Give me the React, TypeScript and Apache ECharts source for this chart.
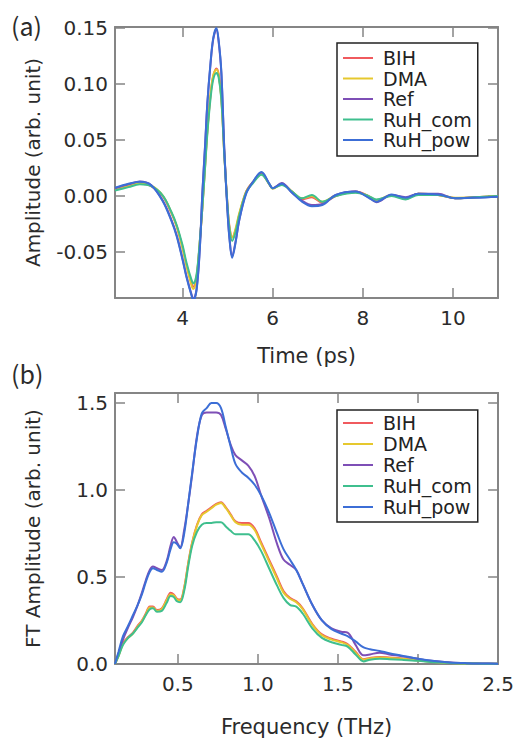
import React, { useEffect, useRef } from "react";
import * as echarts from "echarts";

const SERIES_NAMES = ["BIH", "DMA", "Ref", "RuH_com", "RuH_pow"];
const COLORS = ["#f05a5e", "#e6c82e", "#7e4fb6", "#3fbf8e", "#3c6ed6"];

// Panel (a): time domain
const TIME = [2.5, 2.8, 3.05, 3.3, 3.56, 3.75, 3.87, 4.0, 4.09, 4.2, 4.24, 4.31, 4.38, 4.44, 4.5, 4.55, 4.62, 4.68, 4.75, 4.8, 4.86, 4.93, 5.0, 5.04, 5.1, 5.17, 5.26, 5.41, 5.55, 5.75, 5.92, 6.0, 6.2, 6.43, 6.65, 6.87, 7.1, 7.4, 7.84, 8.13, 8.3, 8.64, 8.95, 9.23, 9.67, 10.05, 10.5, 11.0];
const AMP_BIH = [0.006, 0.009, 0.011, 0.009, 0.0, -0.015, -0.027, -0.046, -0.062, -0.078, -0.081, -0.072, -0.042, -0.01, 0.027, 0.058, 0.09, 0.107, 0.114, 0.109, 0.088, 0.035, -0.01, -0.027, -0.037, -0.031, -0.016, 0.004, 0.012, 0.02, 0.011, 0.007, 0.011, 0.004, -0.003, -0.001, -0.006, 0.0, 0.004, 0.0, -0.004, 0.001, -0.002, 0.002, 0.001, -0.002, -0.001, 0.0];
const AMP_DMA = [0.0065, 0.0095, 0.0115, 0.0095, 0.0005, -0.0145, -0.027, -0.047, -0.063, -0.080, -0.083, -0.073, -0.042, -0.009, 0.028, 0.059, 0.091, 0.108, 0.113, 0.108, 0.087, 0.034, -0.011, -0.028, -0.037, -0.03, -0.015, 0.004, 0.012, 0.0195, 0.011, 0.0065, 0.0105, 0.004, -0.002, 0.0, -0.005, 0.0005, 0.0035, 0.0, -0.0035, 0.001, -0.0025, 0.002, 0.001, -0.0015, -0.001, 0.0];
const AMP_REF = [0.007, 0.0105, 0.013, 0.01, -0.004, -0.021, -0.035, -0.056, -0.072, -0.088, -0.092, -0.083, -0.048, 0.004, 0.046, 0.083, 0.118, 0.14, 0.149, 0.138, 0.11, 0.038, -0.015, -0.037, -0.054, -0.042, -0.021, 0.003, 0.012, 0.021, 0.011, 0.007, 0.0116, 0.003, -0.004, -0.008, -0.007, 0.001, 0.004, -0.001, -0.0055, 0.001, -0.001, 0.002, 0.002, -0.002, -0.001, -0.0005];
const AMP_RUH_COM = [0.005, 0.008, 0.0105, 0.009, 0.0005, -0.014, -0.026, -0.044, -0.06, -0.075, -0.078, -0.07, -0.041, -0.01, 0.026, 0.056, 0.087, 0.104, 0.11, 0.106, 0.086, 0.034, -0.011, -0.029, -0.04, -0.033, -0.017, 0.003, 0.011, 0.019, 0.011, 0.007, 0.01, 0.004, -0.002, 0.001, -0.005, 0.0, 0.003, 0.0, -0.003, 0.0, -0.003, 0.001, 0.001, -0.002, -0.001, 0.0];
const AMP_RUH_POW = [0.0075, 0.011, 0.0128, 0.0098, -0.0045, -0.022, -0.036, -0.057, -0.073, -0.089, -0.093, -0.084, -0.049, 0.003, 0.045, 0.083, 0.119, 0.141, 0.15, 0.139, 0.111, 0.037, -0.016, -0.038, -0.055, -0.043, -0.021, 0.002, 0.012, 0.0215, 0.0115, 0.007, 0.011, 0.003, -0.005, -0.009, -0.008, 0.001, 0.004, -0.0015, -0.005, 0.0015, -0.0015, 0.002, 0.0015, -0.002, -0.0015, -0.0005];

// Panel (b): frequency domain
const FREQ = [0.108, 0.13, 0.158, 0.19, 0.22, 0.25, 0.276, 0.3, 0.325, 0.345, 0.37, 0.4, 0.43, 0.455, 0.475, 0.495, 0.515, 0.54, 0.565, 0.59, 0.62, 0.65, 0.68, 0.71, 0.74, 0.77, 0.8, 0.83, 0.86, 0.9, 0.94, 0.98, 1.02, 1.07, 1.12, 1.16, 1.2, 1.24, 1.28, 1.34, 1.4, 1.46, 1.52, 1.56, 1.61, 1.66, 1.7, 1.76, 1.82, 1.9, 2.0, 2.1, 2.2, 2.3, 2.4, 2.5];
const FT_BIH = [0.0, 0.05, 0.12, 0.155, 0.18, 0.22, 0.25, 0.29, 0.33, 0.33, 0.31, 0.32, 0.37, 0.41, 0.4, 0.375, 0.37, 0.44, 0.58, 0.7, 0.8, 0.86, 0.88, 0.9, 0.92, 0.93, 0.9, 0.86, 0.82, 0.81, 0.81, 0.78, 0.7, 0.6, 0.5, 0.42, 0.38, 0.36, 0.32, 0.23, 0.17, 0.145, 0.13, 0.115, 0.07, 0.028, 0.035, 0.04, 0.037, 0.032, 0.022, 0.013, 0.007, 0.004, 0.002, 0.001];
const FT_DMA = [0.0, 0.045, 0.115, 0.15, 0.175, 0.215, 0.245, 0.285, 0.325, 0.325, 0.305, 0.315, 0.365, 0.4, 0.395, 0.37, 0.365, 0.435, 0.575, 0.695, 0.795, 0.855, 0.875, 0.895, 0.915, 0.925, 0.895, 0.855, 0.815, 0.8, 0.8, 0.77, 0.69, 0.59, 0.49, 0.41, 0.375, 0.355, 0.315, 0.225, 0.165, 0.14, 0.125, 0.11, 0.065, 0.025, 0.032, 0.037, 0.034, 0.03, 0.02, 0.012, 0.006, 0.003, 0.002, 0.001];
const FT_REF = [0.0, 0.06, 0.14, 0.21, 0.27, 0.34, 0.41, 0.48, 0.54, 0.56, 0.55, 0.54, 0.59, 0.68, 0.73, 0.7, 0.67, 0.77, 0.92, 1.09, 1.31, 1.43, 1.445, 1.445, 1.445, 1.43, 1.35, 1.26, 1.2, 1.17, 1.14, 1.08, 0.97, 0.84, 0.69, 0.6, 0.57, 0.54, 0.46, 0.34, 0.25, 0.205, 0.185, 0.18, 0.11, 0.05, 0.055, 0.065, 0.055, 0.045, 0.03, 0.017, 0.009, 0.005, 0.003, 0.002];
const FT_RUH_COM = [0.0, 0.045, 0.11, 0.15, 0.175, 0.21, 0.24, 0.28, 0.315, 0.32, 0.3, 0.305, 0.35, 0.39, 0.385, 0.36, 0.355, 0.42, 0.56, 0.68, 0.76, 0.8, 0.81, 0.81, 0.815, 0.815, 0.79, 0.765, 0.745, 0.745, 0.745, 0.71, 0.65, 0.55, 0.45, 0.38, 0.34, 0.33, 0.29, 0.205, 0.15, 0.125, 0.11, 0.1, 0.055, 0.015, 0.025, 0.03, 0.028, 0.024, 0.018, 0.01, 0.006, 0.003, 0.002, 0.001];
const FT_RUH_POW = [0.0, 0.07, 0.16, 0.22, 0.28, 0.34, 0.4, 0.47, 0.53, 0.55, 0.54, 0.53, 0.58, 0.66, 0.7, 0.69, 0.665, 0.75, 0.92, 1.1, 1.3, 1.44, 1.47, 1.5, 1.5, 1.47, 1.36, 1.25, 1.15, 1.1, 1.07, 1.03, 0.97, 0.87, 0.75, 0.66, 0.6, 0.54, 0.46, 0.34, 0.25, 0.2, 0.175, 0.16, 0.13, 0.095, 0.085, 0.075, 0.062, 0.048, 0.03, 0.017, 0.009, 0.005, 0.003, 0.002];

const TIME_TICKS = [4, 6, 8, 10];
const AMP_TICKS = [-0.05, 0.0, 0.05, 0.1, 0.15];
const FREQ_TICKS = [0.5, 1.0, 1.5, 2.0, 2.5];
const FT_TICKS = [0.0, 0.5, 1.0, 1.5];

const FONT = "DejaVu Sans";
const AXIS_COLOR = "#858585";
const TEXT_COLOR = "#2b2b2b";

function zip(xs: number[], ys: number[]) {
  return xs.map((x, i) => [x, ys[i]]);
}

function makeXAxis(gridIndex: number, position: "top" | "bottom", min: number, max: number, ticks: number[], digits: number, name?: string, nameGap?: number) {
  const labeled = position === "bottom";
  return {
    type: "value",
    gridIndex,
    position,
    min,
    max,
    name: labeled ? name : undefined,
    nameLocation: "middle",
    nameGap,
    nameTextStyle: { fontSize: 21, color: TEXT_COLOR, fontFamily: FONT },
    axisLine: { show: true, onZero: false, lineStyle: { color: AXIS_COLOR, width: 2 } },
    axisTick: { show: true, inside: true, length: 10, customValues: ticks, lineStyle: { color: AXIS_COLOR, width: 1.5 } },
    axisLabel: {
      show: labeled,
      customValues: ticks,
      margin: 10,
      fontSize: 20,
      color: TEXT_COLOR,
      fontFamily: FONT,
      formatter: (v: number) => v.toFixed(digits),
    },
    splitLine: { show: false },
  };
}

function makeYAxis(gridIndex: number, position: "left" | "right", min: number, max: number, ticks: number[], digits: number, name?: string) {
  const labeled = position === "left";
  return {
    type: "value",
    gridIndex,
    position,
    min,
    max,
    name: labeled ? name : undefined,
    nameLocation: "middle",
    nameGap: 72,
    nameRotate: 90,
    nameTextStyle: { fontSize: 20, color: TEXT_COLOR, fontFamily: FONT },
    axisLine: { show: true, onZero: false, lineStyle: { color: AXIS_COLOR, width: 2 } },
    axisTick: { show: true, inside: true, length: 10, customValues: ticks, lineStyle: { color: AXIS_COLOR, width: 1.5 } },
    axisLabel: {
      show: labeled,
      customValues: ticks,
      margin: 7,
      fontSize: 20,
      color: TEXT_COLOR,
      fontFamily: FONT,
      formatter: (v: number) => v.toFixed(digits),
    },
    splitLine: { show: false },
  };
}

function makeLegend(top: number, padding: number[], itemGap: number) {
  return {
    orient: "vertical",
    left: 337,
    top,
    padding,
    itemGap,
    icon: "rect",
    itemWidth: 30,
    itemHeight: 2,
    borderColor: "#222",
    borderWidth: 1.5,
    backgroundColor: "#fff",
    selectedMode: false,
    data: SERIES_NAMES,
    textStyle: { fontSize: 19, lineHeight: 20, color: "#222", fontFamily: FONT, padding: [0, 0, 0, 5] },
  };
}

export default function App() {
  const ref = useRef<HTMLDivElement>(null);
  useEffect(() => {
    if (!ref.current) return;
    const chart = echarts.init(ref.current, undefined, { renderer: "svg" });
    const timeSets = [AMP_BIH, AMP_DMA, AMP_REF, AMP_RUH_COM, AMP_RUH_POW];
    const ftSets = [FT_BIH, FT_DMA, FT_REF, FT_RUH_COM, FT_RUH_POW];
    const series: any[] = [];
    SERIES_NAMES.forEach((name, i) => {
      series.push({
        name,
        type: "line",
        xAxisIndex: 0,
        yAxisIndex: 0,
        data: zip(TIME, timeSets[i]),
        showSymbol: false,
        smooth: 0.35,
        color: COLORS[i],
        lineStyle: { width: 2, color: COLORS[i] },
      });
    });
    SERIES_NAMES.forEach((name, i) => {
      series.push({
        name,
        type: "line",
        xAxisIndex: 2,
        yAxisIndex: 2,
        data: zip(FREQ, ftSets[i]),
        showSymbol: false,
        smooth: 0.35,
        color: COLORS[i],
        lineStyle: { width: 2, color: COLORS[i] },
      });
    });
    chart.setOption({
      animation: false,
      backgroundColor: "#fff",
      textStyle: { fontFamily: FONT },
      grid: [
        { left: 115, top: 27, right: 19, bottom: 441 },
        { left: 115, top: 393, right: 18, bottom: 75 },
      ],
      xAxis: [
        makeXAxis(0, "bottom", 2.5, 11, TIME_TICKS, 0, "Time (ps)", 47),
        makeXAxis(0, "top", 2.5, 11, TIME_TICKS, 0),
        makeXAxis(1, "bottom", 0.108, 2.5, FREQ_TICKS, 1, "Frequency (THz)", 52),
        makeXAxis(1, "top", 0.108, 2.5, FREQ_TICKS, 1),
      ],
      yAxis: [
        makeYAxis(0, "left", -0.091, 0.151, AMP_TICKS, 2, "Amplitude (arb. unit)"),
        makeYAxis(0, "right", -0.091, 0.151, AMP_TICKS, 2),
        makeYAxis(1, "left", 0, 1.557, FT_TICKS, 1, "FT Amplitude (arb. unit)"),
        makeYAxis(1, "right", 0, 1.557, FT_TICKS, 1),
      ],
      legend: [makeLegend(43, [5, 6, 6, 6], 0.5), makeLegend(410, [3, 6, 5, 6], 1)],
      graphic: [
        { type: "text", left: 11, top: 12, style: { text: "(a)", fontSize: 25, fill: TEXT_COLOR, fontFamily: "Noto Sans CJK JP", fontWeight: "normal" } },
        { type: "text", left: 11, top: 360, style: { text: "(b)", fontSize: 25, fill: TEXT_COLOR, fontFamily: "Noto Sans CJK JP", fontWeight: "normal" } },
      ],
      series,
    });
    return () => chart.dispose();
  }, []);
  return <div ref={ref} style={{ position: "absolute", left: 0, top: 0, width: 517, height: 739 }} />;
}
